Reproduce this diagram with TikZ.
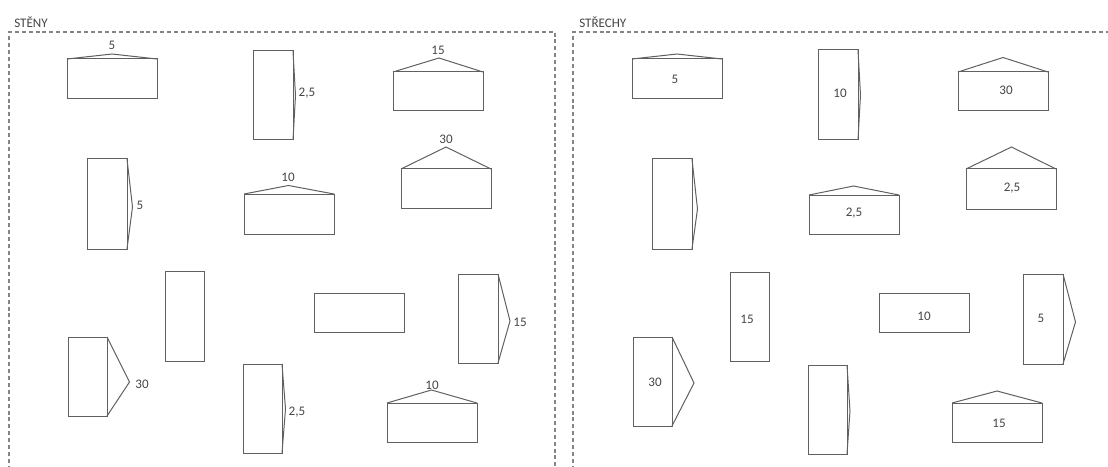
\documentclass[tikz,border=0pt]{standalone}
\usepackage{fontspec}
\setmainfont{Carlito}
\definecolor{shapegray}{HTML}{606060}
\definecolor{dashgray}{HTML}{858585}
\definecolor{textgray}{HTML}{454545}
\begin{document}
\begin{tikzpicture}[x=0.75pt,y=-0.75pt,
  box/.style={draw=shapegray,line width=0.75pt,line join=miter},
  gable/.style={draw=shapegray,line width=0.75pt},
  panel/.style={draw=dashgray,line width=0.8pt,dash pattern=on 3pt off 2.2pt},
  lbl/.style={text=textgray,font=\fontsize{9.8}{11}\selectfont,inner sep=0pt},
  ttl/.style={text=textgray,font=\fontsize{9.8}{11}\selectfont,inner sep=0pt,anchor=west}]
\useasboundingbox (0,0) rectangle (1108,467);
% panels
\draw[panel] (9,470) -- (9,32) -- (555,32) -- (555,470);
\draw[panel] (573,470) -- (573,32) -- (1110,32);
\node[ttl] (t1) at (14,22) {STĚNY};
\node[ttl] (t2) at (579,22) {STŘECHY};
% ---------- left panel ----------
% A
\draw[box] (67,59) rectangle (157,99);
\draw[gable] (67,59) -- (112,54) -- (157,59);
\node[lbl] (a) at (112,45) {5};
% B
\draw[box] (253,51) rectangle (293,140);
\draw[gable] (293,51) -- (295.5,95.5) -- (293,140);
\node[lbl] (b) at (307,93) {2,5};
% C
\draw[box] (393,72) rectangle (483,111);
\draw[gable] (393,72) -- (439,58) -- (483,72);
\node[lbl] (c) at (438,50) {15};
% D
\draw[box] (401,169) rectangle (491,208);
\draw[gable] (401,169) -- (446,147) -- (491,169);
\node[lbl] (d) at (446,139) {30};
% E
\draw[box] (244,194) rectangle (334,234);
\draw[gable] (244,194) -- (288.5,185.5) -- (334,194);
\node[lbl] (e) at (288,177) {10};
% F
\draw[box] (87,159) rectangle (127,249);
\draw[gable] (127,159) -- (132.5,207) -- (127,249);
\node[lbl] (f) at (140,205) {5};
% G
\draw[box] (165,271) rectangle (204,361);
% H
\draw[box] (68,337) rectangle (107,416);
\draw[gable] (107,337) -- (129.5,382) -- (107,416);
\node[lbl] (h) at (142,384) {30};
% I
\draw[box] (243,364) rectangle (282,453);
\draw[gable] (282,364) -- (285.5,409) -- (282,453);
\node[lbl] (i) at (297,412) {2,5};
% J
\draw[box] (314,293) rectangle (404,332);
% K
\draw[box] (458,274) rectangle (498,363);
\draw[gable] (498,274) -- (510,321) -- (498,363);
\node[lbl] (k) at (520,322) {15};
% L
\draw[box] (387,403) rectangle (477,442);
\draw[gable] (387,403) -- (431.5,390) -- (477,403);
\node[lbl] (l) at (432,385) {10};
% ---------- right panel ----------
% R1
\draw[box] (632,59) rectangle (722,99);
\draw[gable] (632,59) -- (677,54) -- (722,59);
\node[lbl] (r1) at (675,79) {5};
% R2
\draw[box] (818,50) rectangle (858,140);
\draw[gable] (858,50) -- (860.5,95) -- (858,140);
\node[lbl] (r2) at (840,93) {10};
% R3
\draw[box] (958,72) rectangle (1048,111);
\draw[gable] (958,72) -- (1003,57.5) -- (1048,72);
\node[lbl] (r3) at (1006,90) {30};
% R4
\draw[box] (966,169) rectangle (1056,209);
\draw[gable] (966,169) -- (1011.5,147) -- (1056,169);
\node[lbl] (r4) at (1012,188) {2,5};
% R5
\draw[box] (809,195) rectangle (899,234);
\draw[gable] (809,195) -- (853.5,186) -- (899,195);
\node[lbl] (r5) at (854,213) {2,5};
% R6
\draw[box] (652,159) rectangle (692,249);
\draw[gable] (692,159) -- (697.5,209) -- (692,249);
% R7
\draw[box] (730,272) rectangle (769,361);
\node[lbl] (r7) at (747,319) {15};
% R8
\draw[box] (633,337) rectangle (672,426);
\draw[gable] (672,337) -- (694,383) -- (672,426);
\node[lbl] (r8) at (655,382) {30};
% R9
\draw[box] (808,365) rectangle (847,454);
\draw[gable] (847,365) -- (850,411) -- (847,454);
% R10
\draw[box] (879,293) rectangle (969,332);
\node[lbl] (r10) at (924,316) {10};
% R11
\draw[box] (1023,274) rectangle (1063,364);
\draw[gable] (1063,274) -- (1075.5,322) -- (1063,364);
\node[lbl] (r11) at (1041,318) {5};
% R12
\draw[box] (952,403) rectangle (1042,442);
\draw[gable] (952,403) -- (997,391) -- (1042,403);
\node[lbl] (r12) at (999,423) {15};
\end{tikzpicture}
\end{document}
